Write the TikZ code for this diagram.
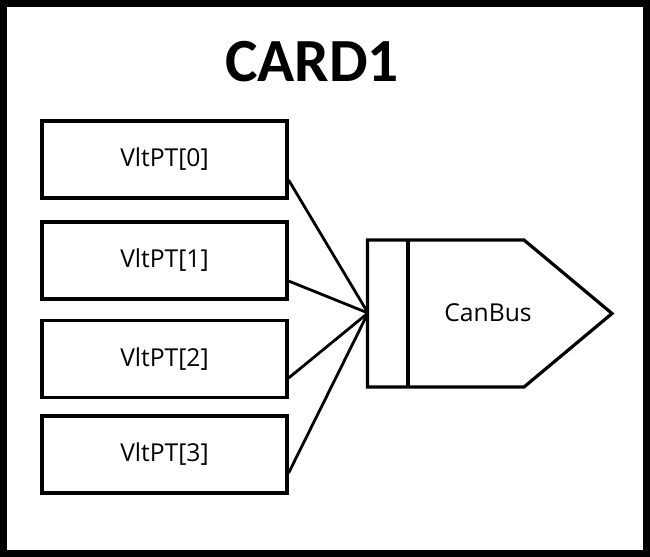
\documentclass[tikz,border=0pt]{standalone}
\usepackage{fontspec}
\setmainfont{Open Sans}
\newfontfamily\titlefont{Carlito}
\begin{document}
\begin{tikzpicture}[x=0.75pt,y=-0.75pt,
  lbl/.style={font=\fontsize{18.5}{20}\selectfont},
  vbox/.style={draw=black,line width=2.4pt,minimum width=245*0.75pt,minimum height=77*0.75pt,inner sep=0pt,lbl},
  wire/.style={line width=2.1pt}]
\useasboundingbox (0,0) rectangle (650,557);
\fill[white] (0,0) rectangle (650,557);
\draw[line width=5.6pt] (3.75,3.75) rectangle (646.25,553.25);
\node[font=\titlefont\bfseries\fontsize{46}{50}\selectfont] (title) at (312,62) {CARD1};
\node[vbox] (v0) at (164.5,159.5) {VltPT[0]};
\node[vbox] (v1) at (164.5,260.5) {VltPT[1]};
\node[vbox] (v2) at (164.5,359) {VltPT[2]};
\node[vbox] (v3) at (164.5,454.5) {VltPT[3]};
\coordinate (hub) at (368,313);
\draw[line width=2.4pt,line join=miter] (367.5,240) -- (524,240) -- (612,313.5) -- (524,387) -- (367.5,387) -- cycle;
\draw[line width=2.4pt] (408,240) -- (408,387);
\node[lbl] (can) at (488,313) {CanBus};
\draw[wire] (v0.east |- 0,180) -- (hub);
\draw[wire] (v1.east |- 0,281) -- (hub);
\draw[wire] (v2.east |- 0,378) -- (hub);
\draw[wire] (v3.east |- 0,473) -- (hub);
\end{tikzpicture}
\end{document}
